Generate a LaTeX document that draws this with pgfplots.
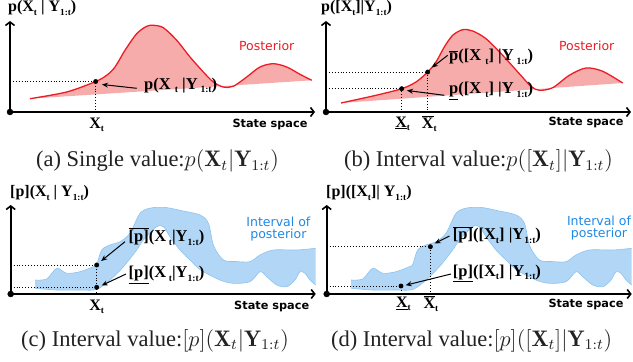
\documentclass[border=0pt]{standalone}
\usepackage{fontspec}
\usepackage{graphicx}
\usepackage{pgfplots}
\usepackage{pgfplotstable}
\pgfplotsset{compat=1.18}
\usepgfplotslibrary{fillbetween}
\usetikzlibrary{arrows.meta}
\newfontfamily\tnr{Liberation Serif}
\newfontfamily\dvs{DejaVu Sans}
\definecolor{postred}{RGB}{236,28,36}
\definecolor{postfill}{RGB}{247,172,172}
\definecolor{bandfill}{RGB}{178,215,246}
\definecolor{bandedge}{RGB}{140,195,240}
\definecolor{intblue}{RGB}{30,136,229}
\definecolor{captc}{RGB}{34,34,34}
\newcommand\bl{\tnr\bfseries\fontsize{16.5}{18}\selectfont}
\newcommand\tl{\tnr\bfseries\fontsize{16}{18}\selectfont}
\newcommand\xl{\tnr\bfseries\fontsize{16}{18}\selectfont}
\newcommand\stsp{\dvs\bfseries\fontsize{11.3}{13}\selectfont}
\newcommand\post{\dvs\fontsize{12.5}{15.7}\selectfont}
\newcommand\capt[1]{\scalebox{1.875}{\tnr\fontsize{12}{14}\selectfont #1}}
\newcommand\sbs[1]{\raisebox{-0.22em}{\scalebox{0.58}{#1}}}
\pgfplotstableread{
x y
24.3 14
36 15
46 25.7
56 20.7
69.3 22.3
82.7 27.3
86 29.5
91 44
99.3 49
109.3 52.3
119.3 60.7
129.3 80.7
140 86
155 86.5
170 83.5
189.3 79
197.7 70.7
203 48
212.7 34
225 32.5
239.3 32.3
249.3 39
262.7 44
286 44
305 45.7
}\bandup
\pgfplotstableread{
x y
24.3 5.7
46 4
69.3 4
86 4.5
99.3 14
112.7 27.3
126 44
132.7 54
146 67.3
152.7 67.3
159.3 57.3
169.3 44
179.3 34
190 24
209.3 14
222.7 10.7
239.3 12.3
249.3 22.3
256 17.3
266 9
276 7.3
284.3 14
289.3 22.3
294.3 20.7
299.3 14
305 9
}\bandlo
\pgfplotsset{panel/.style={scale only axis, width=305pt, xmin=0, xmax=305, ymin=0,
  axis lines=left, axis line style={line width=1.6pt, -{Straight Barb[length=3.5pt,width=9pt]}},
  xtick=\empty, ytick=\empty, clip=false, anchor=south west, enlargelimits=false},
  dotl/.style={dotted, line width=0.9pt, black},
  dot/.style={only marks, mark=*, mark size=2.2pt, black},
  odot/.style={only marks, mark=*, mark size=3pt, black}}
\tikzset{larr/.style={-{Stealth[length=6pt,width=5pt]}, line width=1pt}}
\begin{document}
\begin{tikzpicture}
% ---------- (a)
\begin{axis}[panel, at={(10pt,250pt)}, height=91pt, ymax=91]
\addplot[name path=ca, smooth, draw=postred, line width=1.3pt] coordinates {(20,13.3) (56.7,20) (85.7,30.5) (96.7,36.7) (105,45) (115,61.7) (126.7,78.3) (136.7,85.7) (143.3,86.7) (153.3,84.3) (166.7,71.7) (180,55) (193.3,40) (203.3,30) (213.3,25) (223.3,25.7) (236.7,35) (250,45) (263.3,48.3) (276.7,45) (290,37.7) (301.7,31.7)};
\addplot[name path=la, draw=none] coordinates {(20,13.3) (301.7,31.7)};
\addplot[fill=postfill] fill between[of=ca and la];
\addplot[dotl] coordinates {(0,30.5) (85.7,30.5) (85.7,0)};
\addplot[dot] coordinates {(85.7,30.5)};
\addplot[odot] coordinates {(0,0)};
\draw[larr] (axis cs:126.7,23.7) -- (axis cs:92,27.5);
\node[anchor=base west, inner sep=0] at (axis cs:-2,100.3) {\tl p(X\sbs{t} | Y\sbs{1:t})};
\node[anchor=west, inner sep=0] at (axis cs:134,26.5) {\bl p(X \sbs{t} |Y\,\sbs{1:t})};
\node[inner sep=0] at (axis cs:86.7,-13) {\xl X\sbs{t}};
\node[inner sep=0] at (axis cs:260,-12) {\stsp State space};
\node[inner sep=0, text=postred] at (axis cs:256.7,66) {\post Posterior};
\end{axis}
% ---------- (b)
\begin{axis}[panel, at={(326pt,250pt)}, height=91pt, ymax=91]
\addplot[name path=cb, smooth, draw=postred, line width=1.3pt] coordinates {(15,9) (50,16.7) (75.7,23.3) (90,30) (101.7,40) (110,50) (118.3,65) (126.7,76.7) (136.7,82.3) (146.7,81) (160,73.3) (176.7,56.7) (193.3,38.3) (205,25.7) (213.3,21.7) (226.7,24.3) (243.3,36.7) (260,44) (276.7,40.7) (296.7,29)};
\addplot[name path=lb, draw=none] coordinates {(15,9) (296.7,29)};
\addplot[fill=postfill] fill between[of=cb and lb];
\addplot[dotl] coordinates {(0,23.3) (75.7,23.3) (75.7,0)};
\addplot[dotl] coordinates {(0,40) (101.7,40) (101.7,0)};
\addplot[dot] coordinates {(75.7,23.3) (101.7,40)};
\addplot[odot] coordinates {(0,0)};
\draw[larr] (axis cs:121.7,56.7) -- (axis cs:106,44.5);
\draw[larr] (axis cs:118.3,16.7) -- (axis cs:81,21.5);
\node[anchor=base west, inner sep=0] at (axis cs:-5,100) {\tl p([X\sbs{t}]|Y\sbs{1:t})};
\node[anchor=west, inner sep=0] at (axis cs:123,55) {\bl $\overline{\hbox{p}}$([X \sbs{t}] |Y\,\sbs{1:t})};
\node[anchor=west, inner sep=0] at (axis cs:123,21) {\bl \underline{p}([X \sbs{t}] |Y\,\sbs{1:t})};
\node[inner sep=0] at (axis cs:76.7,-11.7) {\xl \underline{X}\sbs{t}};
\node[inner sep=0] at (axis cs:103.3,-11.7) {\xl $\overline{\hbox{X}}$\sbs{t}};
\node[inner sep=0] at (axis cs:260,-10) {\stsp State space};
\node[inner sep=0, text=postred] at (axis cs:260.7,65.7) {\post Posterior};
\end{axis}
% ---------- (c)
\begin{axis}[panel, at={(10.7pt,68pt)}, height=89pt, ymax=89]
\addplot[name path=uc, smooth, draw=bandedge, line width=0.6pt] table {\bandup};
\addplot[name path=lc, smooth, draw=bandedge, line width=0.6pt] table {\bandlo};
\addplot[fill=bandfill] fill between[of=uc and lc];
\addplot[dotl] coordinates {(0,29) (86,29) (86,0)};
\addplot[dotl] coordinates {(0,6.7) (86,6.7)};
\addplot[dot] coordinates {(86,29) (86,6.7)};
\addplot[odot] coordinates {(0,0)};
\draw[larr] (axis cs:114.3,52.3) -- (axis cs:90.5,33);
\draw[larr] (axis cs:115.3,20) -- (axis cs:91,8.5);
\node[anchor=base west, inner sep=0] at (axis cs:-0.7,97.3) {\tl [p](X\sbs{t} | Y\sbs{1:t})};
\node[anchor=west, inner sep=0] at (axis cs:117.7,57.3) {\bl $\overline{\hbox{[p]}}$(X\,\sbs{t}|Y\sbs{1:t})};
\node[anchor=west, inner sep=0] at (axis cs:117.7,19) {\bl \underline{[p]}(X\,\sbs{t}|Y\sbs{1:t})};
\node[inner sep=0] at (axis cs:86,-12.7) {\xl X\sbs{t}};
\node[inner sep=0] at (axis cs:261,-12.7) {\stsp State space};
\node[inner sep=0, text=intblue, align=center] at (axis cs:267.7,65) {\post Interval of\\\post posterior};
\end{axis}
% ---------- (d)
\begin{axis}[panel, at={(326.7pt,68pt)}, height=89pt, ymax=89]
\addplot[name path=ud, smooth, draw=bandedge, line width=0.6pt] table {\bandup};
\addplot[name path=ld, smooth, draw=bandedge, line width=0.6pt] table {\bandlo};
\addplot[fill=bandfill] fill between[of=ud and ld];
\addplot[dotl] coordinates {(0,47.3) (103.7,47.3) (103.7,0)};
\addplot[dotl] coordinates {(0,8) (74.3,8) (74.3,0)};
\addplot[dot] coordinates {(103.7,47.3) (74.3,8)};
\addplot[odot] coordinates {(0,0)};
\draw[larr] (axis cs:122.7,58) -- (axis cs:108,50.5);
\draw[larr] (axis cs:124.3,20) -- (axis cs:79,8.8);
\node[anchor=base west, inner sep=0] at (axis cs:-0.7,97.3) {\tl [p]([X\sbs{t}]| Y\sbs{1:t})};
\node[anchor=west, inner sep=0] at (axis cs:126,59) {\bl $\overline{\hbox{[p]}}$([X\sbs{t}] |Y\sbs{1:t})};
\node[anchor=west, inner sep=0] at (axis cs:126,20.7) {\bl \underline{[p]}([X\sbs{t}] |Y\sbs{1:t})};
\node[inner sep=0] at (axis cs:76.7,-10) {\xl \underline{X}\sbs{t}};
\node[inner sep=0] at (axis cs:104.3,-10) {\xl $\overline{\hbox{X}}$\sbs{t}};
\node[inner sep=0] at (axis cs:259.3,-10) {\stsp State space};
\node[inner sep=0, text=intblue, align=center] at (axis cs:272.3,66.3) {\post Interval of\\\post posterior};
\end{axis}
% ---------- captions
\node[anchor=base, inner sep=0, text=captc] at (157.5pt,195.3pt) {\capt{(a) Single value:$p(\mathbf{X}_t|\mathbf{Y}_{1:t})$}};
\node[anchor=base, inner sep=0, text=captc] at (478.5pt,195.3pt) {\capt{(b) Interval value:$p([\mathbf{X}_t]|\mathbf{Y}_{1:t})$}};
\node[anchor=base, inner sep=0, text=captc] at (155pt,15.5pt) {\capt{(c) Interval value:$[p](\mathbf{X}_t|\mathbf{Y}_{1:t})$}};
\node[anchor=base, inner sep=0, text=captc] at (471.7pt,15.5pt) {\capt{(d) Interval value:$[p]([\mathbf{X}_t]|\mathbf{Y}_{1:t})$}};
\pgfresetboundingbox
\path[use as bounding box] (0,0) rectangle (633pt,362pt);
\end{tikzpicture}
\end{document}
